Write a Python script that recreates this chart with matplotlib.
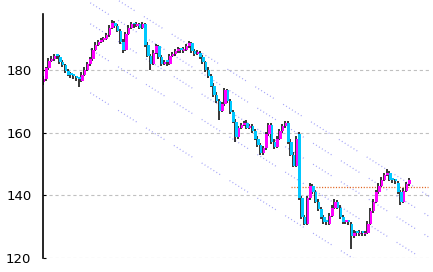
import numpy as np
import matplotlib
matplotlib.use('Agg')
import matplotlib.pyplot as plt

plt.rcParams['font.family'] = ['Liberation Sans Narrow', 'DejaVu Sans Condensed', 'DejaVu Sans']
plt.rcParams['lines.scale_dashes'] = False

# Daily candles (open / high / low / close)
opens = [176.0, 177.0, 180.5, 183.0, 183.5, 184.5, 184.0, 182.5, 181.5, 179.5,
         178.5, 178.0, 177.5, 177.0, 176.5, 178.5, 180.0, 182.0, 183.5, 186.5,
         188.0, 189.0, 189.5, 190.0, 191.0, 193.5, 195.0, 194.0, 192.5, 189.0,
         186.5, 191.5, 193.5, 194.5, 194.0, 194.5, 193.5, 194.5, 188.0, 184.5,
         182.0, 185.5, 187.5, 184.0, 182.0, 182.5, 182.0, 184.5, 185.0, 186.0,
         186.5, 186.0, 186.5, 187.5, 188.5, 186.0, 185.0, 185.5, 184.0, 182.5,
         180.0, 178.0, 175.0, 172.0, 170.0, 167.0, 169.0, 173.5, 170.0, 166.5,
         163.5, 158.5, 161.5, 162.5, 163.0, 161.5, 162.0, 160.5, 158.0, 156.0,
         153.5, 155.0, 159.5, 162.5, 157.0, 155.5, 158.0, 160.5, 162.0, 163.0,
         157.0, 153.0, 149.5, 159.5, 139.0, 133.0, 131.0, 139.0, 143.0, 141.0,
         138.0, 135.5, 133.0, 131.5, 131.0, 133.5, 136.0, 138.0, 136.0, 133.0,
         131.5, 131.5, 131.0, 127.0, 128.0, 127.5, 128.0, 127.5, 128.0, 131.0,
         135.0, 138.0, 141.0, 143.0, 145.0, 146.5, 147.0, 145.0, 144.5, 144.0,
         141.0, 138.0, 141.5, 143.5]
closes = [177.0, 180.5, 183.0, 183.5, 184.5, 184.0, 182.5, 181.5, 179.5, 178.5,
          178.0, 177.5, 177.0, 176.5, 178.5, 180.0, 182.0, 183.5, 186.5, 188.0,
          189.0, 189.5, 190.0, 191.0, 193.5, 195.0, 194.0, 192.5, 189.0, 186.5,
          191.5, 193.5, 194.5, 194.0, 194.5, 193.5, 194.5, 188.0, 184.5, 182.0,
          185.5, 187.5, 184.0, 182.0, 182.5, 182.0, 184.5, 185.0, 186.0, 186.5,
          186.0, 186.5, 187.5, 188.5, 186.0, 185.0, 185.5, 184.0, 182.5, 180.0,
          178.0, 175.0, 172.0, 170.0, 167.0, 169.0, 173.5, 170.0, 166.5, 163.5,
          158.5, 161.5, 162.5, 163.0, 161.5, 162.0, 160.5, 158.0, 156.0, 153.5,
          155.0, 159.5, 162.5, 157.0, 155.5, 158.0, 160.5, 162.0, 163.0, 157.0,
          153.0, 149.5, 158.0, 139.0, 133.0, 131.0, 139.0, 143.0, 141.0, 138.0,
          135.5, 133.0, 131.5, 131.0, 133.5, 136.0, 138.0, 136.0, 133.0, 131.5,
          131.5, 131.0, 127.0, 128.0, 127.5, 128.0, 127.5, 128.0, 131.0, 135.0,
          138.0, 141.0, 143.0, 145.0, 146.5, 147.0, 145.0, 144.5, 144.0, 141.0,
          138.0, 141.5, 143.5, 145.0]
highs = [178.0, 181.0, 183.8, 184.3, 185.2, 185.0, 184.6, 183.2, 182.0, 180.3,
         179.2, 178.8, 178.2, 177.8, 179.2, 180.8, 182.6, 184.2, 187.0, 188.8,
         189.6, 190.3, 190.6, 191.8, 194.2, 195.8, 195.6, 194.6, 193.0, 189.8,
         192.2, 194.2, 195.2, 195.0, 195.2, 195.0, 195.2, 195.0, 188.8, 185.2,
         186.2, 188.3, 188.0, 184.8, 183.3, 183.2, 185.2, 185.8, 186.8, 187.2,
         187.0, 187.2, 188.2, 189.3, 189.0, 186.8, 186.2, 186.0, 184.8, 183.0,
         180.8, 178.6, 175.8, 172.8, 170.6, 169.8, 174.3, 174.0, 170.8, 167.2,
         164.2, 162.2, 163.2, 163.8, 164.0, 162.8, 162.6, 161.2, 158.8, 156.8,
         155.8, 160.2, 163.2, 163.2, 157.8, 158.8, 161.2, 162.8, 163.8, 163.6,
         157.8, 153.8, 158.8, 160.2, 139.8, 133.8, 139.8, 143.8, 143.5, 141.8,
         138.8, 136.2, 133.8, 132.2, 134.2, 136.8, 138.8, 138.6, 136.8, 133.6,
         132.2, 132.2, 131.6, 128.8, 128.6, 128.8, 128.6, 128.7, 131.8, 135.8,
         138.8, 141.8, 143.8, 145.8, 147.2, 148.4, 147.6, 145.6, 145.2, 144.6,
         141.6, 142.2, 144.2, 145.6]
lows = [175.2, 176.5, 180.0, 182.6, 183.0, 183.4, 182.0, 181.0, 179.0, 178.0,
        177.4, 177.0, 176.4, 174.7, 176.0, 178.0, 179.5, 181.4, 183.0, 186.0,
        187.5, 188.5, 189.0, 189.4, 190.5, 193.0, 193.5, 192.0, 188.4, 185.4,
        186.0, 191.0, 193.0, 193.5, 193.6, 193.0, 193.0, 187.4, 184.0, 180.0,
        181.5, 185.0, 183.4, 181.4, 181.5, 181.4, 181.6, 184.0, 184.5, 185.4,
        185.5, 185.5, 186.0, 187.0, 185.5, 184.4, 184.6, 183.4, 182.0, 179.4,
        177.4, 174.4, 171.4, 169.4, 164.0, 166.5, 168.5, 169.4, 165.8, 163.0,
        157.0, 158.0, 161.0, 162.0, 161.0, 161.0, 160.0, 157.5, 155.4, 153.0,
        153.0, 154.5, 159.0, 156.5, 154.8, 155.0, 157.5, 160.0, 161.5, 156.4,
        152.4, 149.0, 149.0, 138.5, 132.4, 130.4, 130.5, 138.5, 140.5, 137.4,
        135.0, 132.5, 131.0, 130.4, 130.5, 133.0, 135.5, 135.5, 132.4, 131.0,
        130.8, 130.5, 123.0, 126.5, 127.0, 127.0, 127.0, 127.0, 127.5, 130.5,
        134.5, 137.5, 140.5, 142.5, 144.5, 146.0, 144.5, 144.0, 143.5, 140.5,
        137.0, 137.5, 141.0, 143.0]

# parallel trend channel: start bar, slope per bar, level of each line at start
channel_start = 17
channel_slope = -0.553
channel_levels = [207.8, 201.4, 194.7, 186.6, 172.7]

# horizontal reference line
ref_level = 142.5
ref_start = 90

y_ticks = [120, 140, 160, 180]

o = np.array(opens)
c = np.array(closes)
h = np.array(highs)
l = np.array(lows)
x = np.arange(len(c))

fig = plt.figure(figsize=(4.33, 2.72), dpi=100)
ax = fig.add_axes([0.0982, 0.0515, 0.895, 0.9485])
ax.set_xlim(-0.36, 140.5)
ax.set_ylim(120, 202.3)

# grid
for yv in y_ticks:
    ax.axhline(yv, color='#c0c0c0', linewidth=0.8, linestyle=(0, (2.3, 2.0)), zorder=0)

# channel lines
x_end = ax.get_xlim()[1]
for lv in channel_levels:
    ax.plot([channel_start, x_end],
            [lv, lv + channel_slope * (x_end - channel_start)],
            color='#a0a0f8', linewidth=0.9,
            linestyle=(0, (0.7, 1.8) * 6 + (0.7, 8.0)), zorder=1)

ax.hlines(ref_level, ref_start, x_end - 0.8, color='#e0601a', linewidth=0.9,
          linestyle=(0, (0.8, 1.2)), zorder=1)

# candles
up = c >= o
colors = np.where(up, '#ff00ff', '#00c8ff')
ax.vlines(x - 0.25, l, h, color='black', linewidth=1.1, zorder=2)
body = np.where(np.abs(c - o) < 0.6, 0.6, c - o)
ax.bar(x + 0.1, body, bottom=o, width=0.9, color=colors, linewidth=0, zorder=3)

# axes styling
for side in ['top', 'right', 'bottom']:
    ax.spines[side].set_visible(False)
ax.spines['left'].set_bounds(120, 197.9)
ax.spines['left'].set_linewidth(1.2)
ax.spines['left'].set_zorder(4)
ax.set_xticks([])
ax.set_yticks(y_ticks)
ax.set_yticklabels([str(v) for v in y_ticks], fontsize=9.5)
ax.tick_params(axis='y', length=2, direction='in', pad=8)
ax.patch.set_alpha(0)

fig.savefig('out.png', dpi=100, facecolor='white')
